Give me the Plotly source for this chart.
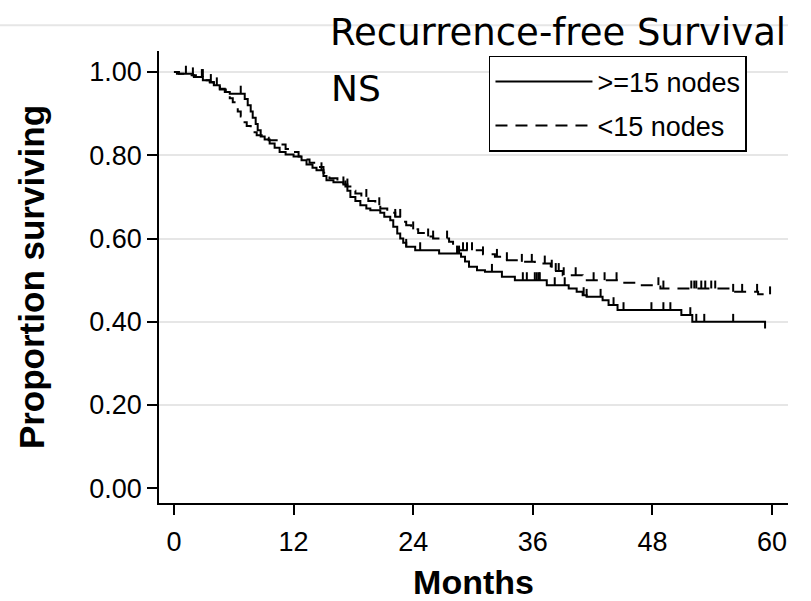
import numpy as np
import plotly.graph_objects as go

# Kaplan-Meier estimates, recurrence-free survival by number of nodes examined.
# Event times (months) and the survival proportion just after each event.
ge15_time = [0.3, 1.9, 2.0, 2.9, 3.6, 4.0, 4.6, 5.1, 5.6, 7.1, 7.4, 7.7, 7.9, 8.2,
             8.4, 8.7, 9.1, 9.6, 10.1, 10.6, 11.2, 12.0, 12.8, 13.3, 13.9, 14.3,
             15.0, 15.3, 16.0, 17.0, 17.4, 17.7, 18.2, 18.7, 19.3, 19.7, 20.7,
             21.1, 21.7, 22.0, 22.4, 22.7, 23.0, 23.3, 24.2, 26.6, 28.8, 29.2,
             29.6, 30.4, 31.2, 32.9, 34.2, 37.4, 39.6, 40.4, 41.0, 41.4, 43.0,
             43.6, 44.5, 50.9, 52.0, 59.3]
ge15_surv = [0.996, 0.992, 0.988, 0.980, 0.976, 0.968, 0.960, 0.952, 0.948, 0.935,
             0.920, 0.905, 0.890, 0.875, 0.860, 0.845, 0.838, 0.828, 0.818, 0.808,
             0.802, 0.797, 0.788, 0.778, 0.770, 0.764, 0.750, 0.740, 0.735, 0.730,
             0.715, 0.700, 0.690, 0.680, 0.672, 0.668, 0.662, 0.652, 0.644, 0.628,
             0.612, 0.600, 0.590, 0.580, 0.572, 0.564, 0.556, 0.545, 0.532, 0.524,
             0.520, 0.508, 0.500, 0.488, 0.480, 0.472, 0.464, 0.460, 0.452, 0.440,
             0.428, 0.416, 0.400, 0.384]
ge15_end = 59.3
ge15_censor = [1.2, 1.9, 2.8, 3.7, 6.7, 14.8, 17.0, 23.3, 24.7, 28.4, 28.6, 31.9,
               35.0, 35.4, 36.2, 36.4, 36.6, 36.7, 38.2, 39.2, 41.1, 41.4, 42.8,
               44.1, 45.1, 47.9, 49.1, 49.8, 51.8, 52.4, 53.2, 56.1]

lt15_time = [0.5, 1.5, 2.2, 3.0, 3.6, 4.0, 4.6, 5.2, 5.6, 5.9, 6.2, 6.4, 6.7, 6.9,
             7.3, 7.7, 7.9, 8.3, 8.8, 9.5, 10.6, 11.2, 11.8, 12.5, 13.0, 13.6,
             14.2, 15.0, 15.6, 16.4, 17.2, 17.7, 18.2, 18.8, 19.5, 20.2, 20.7,
             21.4, 22.2, 23.0, 23.3, 23.8, 24.5, 25.2, 26.0, 27.6, 28.0, 28.6,
             31.0, 32.2, 33.4, 34.6, 36.2, 37.8, 38.2, 39.0, 41.0, 45.0, 46.8,
             48.8, 55.8, 58.6]
lt15_surv = [0.996, 0.992, 0.988, 0.980, 0.975, 0.968, 0.958, 0.948, 0.937, 0.927,
             0.915, 0.905, 0.893, 0.879, 0.870, 0.862, 0.855, 0.848, 0.842, 0.836,
             0.826, 0.815, 0.808, 0.797, 0.790, 0.782, 0.772, 0.758, 0.745, 0.737,
             0.725, 0.715, 0.708, 0.700, 0.690, 0.680, 0.672, 0.662, 0.652, 0.640,
             0.632, 0.622, 0.613, 0.605, 0.600, 0.592, 0.580, 0.572, 0.562, 0.556,
             0.548, 0.544, 0.540, 0.530, 0.522, 0.512, 0.500, 0.494, 0.488, 0.480,
             0.472, 0.466]
lt15_end = 59.9
lt15_censor = [2.9, 4.3, 17.4, 19.3, 20.6, 22.2, 22.7, 24.0, 25.5, 26.0, 27.4,
               29.0, 29.4, 29.9, 31.0, 32.4, 33.4, 34.9, 35.9, 37.2, 37.9, 38.3,
               38.6, 39.1, 40.3, 42.1, 43.2, 44.4, 48.6, 49.1, 51.9, 52.2, 52.4,
               52.9, 53.3, 53.9, 54.3, 56.1, 57.0, 58.5, 59.8]

x_ticks = [0, 12, 24, 36, 48, 60]
y_ticks = [0.0, 0.2, 0.4, 0.6, 0.8, 1.0]

TICK_FONT = "Liberation Sans, Arial, sans-serif"
HEAD_FONT = "DejaVu Sans, sans-serif"
CENSOR_HEIGHT = 0.019


def step_path(times, survs, end):
    xs = [0.0] + list(times) + [end]
    ys = [1.0] + list(survs) + [survs[-1]]
    return xs, ys


def surv_at(times, survs, t):
    i = np.searchsorted(np.asarray(times), t, side="right") - 1
    return 1.0 if i < 0 else survs[i]


fig = go.Figure()

groups = [
    (">=15 nodes", ge15_time, ge15_surv, ge15_end, ge15_censor, "solid"),
    ("<15 nodes", lt15_time, lt15_surv, lt15_end, lt15_censor, "12px,8px"),
]

for name, times, survs, end, cens, dash in groups:
    xs, ys = step_path(times, survs, end)
    fig.add_trace(go.Scatter(
        x=xs, y=ys, mode="lines", name=name, legendgroup=name,
        line=dict(color="black", width=2, shape="hv", dash=dash),
    ))
    # censoring marks: short upward strokes from the curve
    cy = [surv_at(times, survs, c) for c in cens]
    fig.add_trace(go.Scatter(
        x=cens, y=cy, mode="markers", showlegend=False, hoverinfo="skip",
        legendgroup=name,
        marker=dict(size=1, color="rgba(0,0,0,0)"),
        error_y=dict(type="data", symmetric=False,
                     array=[CENSOR_HEIGHT] * len(cens),
                     arrayminus=[0] * len(cens),
                     width=0, thickness=2, color="black"),
    ))

fig.update_layout(
    width=811, height=601,
    margin=dict(l=159, r=23, t=51, b=98),
    paper_bgcolor="white", plot_bgcolor="white",
    showlegend=True,
    legend=dict(
        x=0.5246, y=0.989, xanchor="left", yanchor="top",
        bordercolor="black", borderwidth=1.5, bgcolor="white",
        font=dict(family=TICK_FONT, size=27, color="black"),
        itemwidth=97, tracegroupgap=6, traceorder="grouped",
    ),
)

fig.update_xaxes(
    range=[-1.5, 61.6], tickvals=x_ticks, ticktext=[str(v) for v in x_ticks],
    automargin=False,
    showline=True, linecolor="black", linewidth=1.5,
    ticks="outside", ticklen=10, tickwidth=1.5, tickcolor="black",
    ticklabelstandoff=4,
    showgrid=False, zeroline=False,
    tickfont=dict(family=TICK_FONT, size=27, color="black"),
    title=dict(text="<b>Months</b>", standoff=20,
               font=dict(family=TICK_FONT, size=34, color="black")),
)
fig.update_yaxes(
    range=[-0.0353, 1.0504], tickvals=y_ticks,
    ticktext=[f"{v:.2f}" for v in y_ticks],
    automargin=False,
    showline=True, linecolor="black", linewidth=1.5,
    ticks="outside", ticklen=10, tickwidth=1.5, tickcolor="black",
    showgrid=True, gridcolor="#e6e6e6", gridwidth=1.5,
    zeroline=True, zerolinecolor="rgba(0,0,0,0)",
    tickfont=dict(family=TICK_FONT, size=27, color="black"),
    title=dict(text="<b>Proportion surviving</b>", standoff=34,
               font=dict(family=TICK_FONT, size=35, color="black")),
)

# slide heading text placed over the graph
fig.add_annotation(
    text="Recurrence-free Survival", xref="paper", yref="paper",
    x=0.2687, y=1.0413, xanchor="left", yanchor="middle", showarrow=False,
    font=dict(family=HEAD_FONT, size=37, color="black"),
)
fig.add_annotation(
    text="NS", xref="paper", yref="paper",
    x=0.2703, y=0.916, xanchor="left", yanchor="middle", showarrow=False,
    font=dict(family=HEAD_FONT, size=36, color="black"),
)
fig.add_shape(
    type="line", xref="paper", yref="paper",
    x0=-0.2528, x1=1.0, y0=1.0568, y1=1.0568,
    line=dict(color="#e6e6e6", width=2),
)

fig.write_html("out.html")
